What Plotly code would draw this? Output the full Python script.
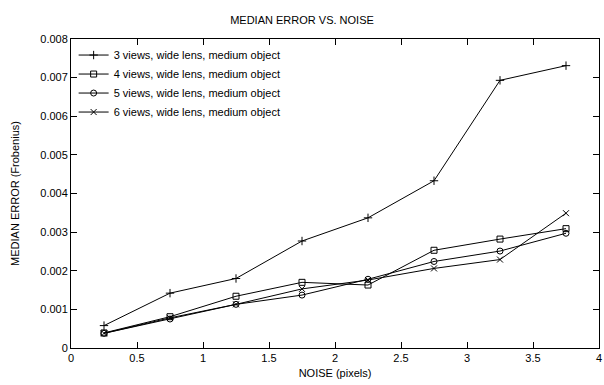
import plotly.graph_objects as go

noise = [0.25, 0.75, 1.25, 1.75, 2.25, 2.75, 3.25, 3.75]
views3 = [0.00058, 0.00142, 0.00180, 0.00277, 0.00337, 0.00433, 0.00693, 0.00731]
views4 = [0.00039, 0.00081, 0.00134, 0.00170, 0.00163, 0.00253, 0.00282, 0.00309]
views5 = [0.00038, 0.00075, 0.00113, 0.00137, 0.00178, 0.00224, 0.00251, 0.00297]
views6 = [0.00038, 0.00078, 0.00113, 0.00153, 0.00176, 0.00206, 0.00229, 0.00349]
names = ["3 views, wide lens, medium object", "4 views, wide lens, medium object",
         "5 views, wide lens, medium object", "6 views, wide lens, medium object"]
symbols = ["cross-thin-open", "square-open", "circle-open", "x-thin-open"]
xtick_vals = [0, 0.5, 1, 1.5, 2, 2.5, 3, 3.5, 4]
xtick_text = ["0", "0.5", "1", "1.5", "2", "2.5", "3", "3.5", "4"]
ytick_vals = [0, 0.001, 0.002, 0.003, 0.004, 0.005, 0.006, 0.007, 0.008]
ytick_text = ["0", "0.001", "0.002", "0.003", "0.004", "0.005", "0.006", "0.007", "0.008"]

FONT = "Liberation Sans, Arial, sans-serif"
fig = go.Figure()
for ys, nm, sym in zip([views3, views4, views5, views6], names, symbols):
    fig.add_trace(go.Scatter(
        x=noise, y=ys, name=nm, mode="lines+markers",
        line=dict(color="black", width=1),
        marker=dict(symbol=sym, size=6, color="black", line=dict(color="black", width=1)),
    ))

axis_common = dict(
    showgrid=False, zeroline=False, showline=True, linecolor="black", linewidth=1,
    mirror="ticks", ticks="inside", ticklen=6, tickcolor="black", tickwidth=1,
    tickfont=dict(family=FONT, size=11, color="black"), automargin=False,
)
fig.update_xaxes(range=[0, 4], tickvals=xtick_vals, ticktext=xtick_text,
                 title=dict(text="NOISE (pixels)", font=dict(family=FONT, size=11, color="black"), standoff=6),
                 **axis_common)
fig.update_yaxes(range=[0, 0.008], tickvals=ytick_vals, ticktext=ytick_text,
                 title=dict(text="MEDIAN ERROR (Frobenius)", font=dict(family=FONT, size=11, color="black"), standoff=18),
                 **axis_common)

fig.update_layout(
    width=604, height=385,
    margin=dict(l=71, r=5, t=39, b=37),
    paper_bgcolor="white", plot_bgcolor="white",
    title=dict(text="MEDIAN ERROR VS. NOISE", x=0.5, xanchor="center", y=0.947, yanchor="middle",
               font=dict(family=FONT, size=11, color="black")),
    font=dict(family=FONT, size=11, color="black"),
    legend=dict(x=0.005, y=0.995, xanchor="left", yanchor="top", bgcolor="rgba(0,0,0,0)",
                font=dict(family=FONT, size=11, color="black"), itemwidth=30, tracegroupgap=0),
    showlegend=True,
)

fig.write_html("out.html")
